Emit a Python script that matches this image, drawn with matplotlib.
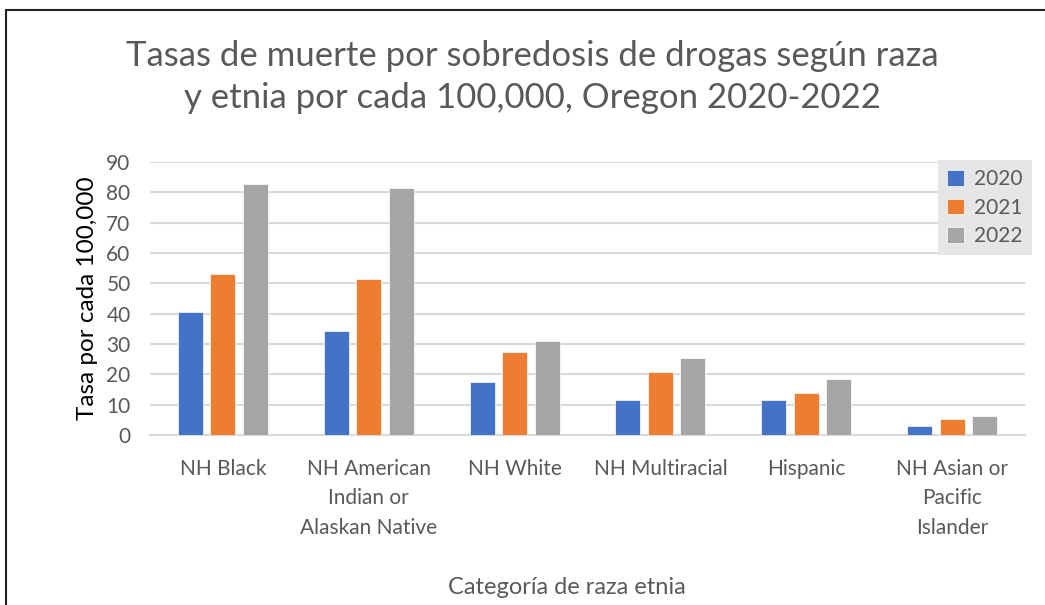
import numpy as np
import matplotlib.pyplot as plt
from matplotlib.patches import Rectangle

categories = ['NH Black', 'NH American\nIndian or\nAlaskan Native', 'NH White',
              'NH Multiracial', 'Hispanic', 'NH Asian or\nPacific\nIslander']
years = ['2020', '2021', '2022']
rate_2020 = [40.7, 34.3, 17.5, 11.6, 11.6, 3.1]
rate_2021 = [53.1, 51.4, 27.5, 20.8, 13.9, 5.3]
rate_2022 = [82.8, 81.4, 31.1, 25.5, 18.6, 6.2]
colors = ['#4472c4', '#ed7d31', '#a5a5a5']

plt.rcParams['font.family'] = ['Lato', 'DejaVu Sans']
grey_txt = '#595959'

fig = plt.figure(figsize=(10.45, 6.05), dpi=100)
ax = fig.add_axes([150/1045, 1-435/605, 875/1045, 273/605])

x = np.arange(len(categories))
pitch = 0.223
width = 0.171
for i, (vals, c, yr) in enumerate(zip([rate_2020, rate_2021, rate_2022], colors, years)):
    ax.bar(x + (i-1)*pitch, vals, width, color=c, label=yr, edgecolor='white', linewidth=0.5, zorder=3)

ax.set_xlim(-0.5, len(categories)-0.5)
ax.set_ylim(0, 90)
ax.set_yticks(np.arange(0, 91, 10))
ax.yaxis.grid(True, color='#d9d9d9', linewidth=1.5, zorder=0)
for s in ['top', 'right', 'left']:
    ax.spines[s].set_visible(False)
ax.spines['bottom'].set_color('#d9d9d9')
ax.spines['bottom'].set_linewidth(1.5)
ax.tick_params(axis='both', length=0, colors=grey_txt, labelsize=15)
ax.tick_params(axis='y', pad=14)
ax.tick_params(axis='x', pad=17)
ax.set_xticks(x)
ax.set_xticklabels(categories, linespacing=1.6)

ax.set_ylabel('Tasa por cada 100,000', fontsize=17.5, color='black', labelpad=6)
fig.text(567/1045, 1-588/605, 'Categoría de raza etnia', ha='center', va='center',
         fontsize=17, color=grey_txt)
fig.text(532/1045, 1-77/605, 'Tasas de muerte por sobredosis de drogas según raza\ny etnia por cada 100,000, Oregon 2020-2022',
         ha='center', va='center', fontsize=25, color=grey_txt, linespacing=1.4)

leg = ax.legend(loc='upper left', bbox_to_anchor=(938/1045, 1-160/605), bbox_transform=fig.transFigure,
                frameon=True, fancybox=False, fontsize=15, handlelength=0.8, handleheight=0.8,
                handletextpad=0.5, labelspacing=0.4, borderpad=0.45, borderaxespad=0)
leg.get_frame().set_facecolor('#e6e6e6')
leg.get_frame().set_edgecolor('none')
leg.get_frame().set_alpha(1)
for t in leg.get_texts():
    t.set_color(grey_txt)

# outer chart frame (runs off the right and bottom edges)
fig.patches.append(Rectangle((6/1045, -0.1), 1.2, 1-10/605+0.1, transform=fig.transFigure,
                             fill=False, edgecolor='#222222', linewidth=1.5))

fig.savefig('out.png', dpi=100)
